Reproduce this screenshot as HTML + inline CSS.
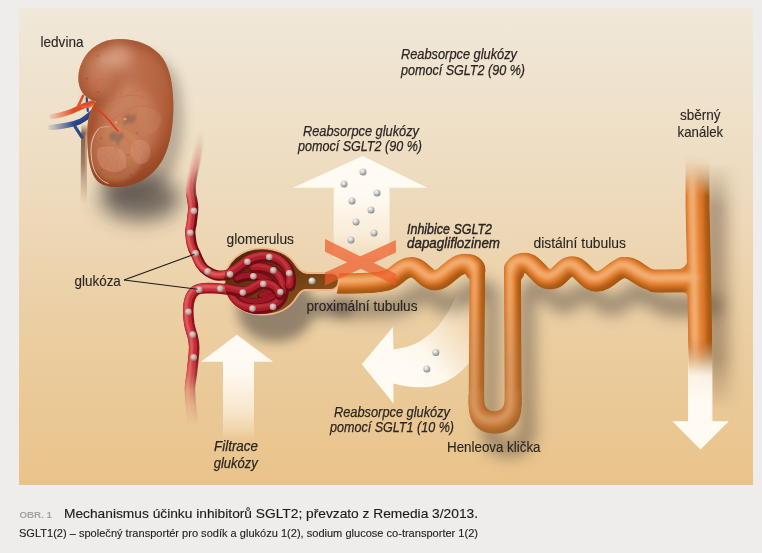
<!DOCTYPE html>
<html lang="cs">
<head>
<meta charset="utf-8">
<title>Mechanismus účinku inhibitorů SGLT2</title>
<style>
html,body{margin:0;padding:0;}
body{width:762px;height:553px;overflow:hidden;background:#eeedeb;font-family:"Liberation Sans",sans-serif;position:relative;}
svg{position:absolute;left:0;top:0;display:block;}
text{font-family:"Liberation Sans",sans-serif;fill:#2a2522;}
.lb{font-size:14.5px;stroke:#2a2522;stroke-width:0.12px;}
.it{font-size:14.5px;font-style:italic;stroke:#2a2522;stroke-width:0.25px;}
.bi{font-size:14.5px;font-style:italic;stroke:#2a2522;stroke-width:0.42px;}
</style>
</head>
<body>
<svg width="762" height="553" viewBox="0 0 762 553">
<defs>

<filter id="b1" filterUnits="userSpaceOnUse" x="0" y="0" width="762" height="553"><feGaussianBlur stdDeviation="1"/></filter>
<filter id="b2" filterUnits="userSpaceOnUse" x="0" y="0" width="762" height="553"><feGaussianBlur stdDeviation="2"/></filter>
<filter id="b4" filterUnits="userSpaceOnUse" x="0" y="0" width="762" height="553"><feGaussianBlur stdDeviation="4"/></filter>
<filter id="b6" filterUnits="userSpaceOnUse" x="0" y="0" width="762" height="553"><feGaussianBlur stdDeviation="6"/></filter>
<filter id="b10" filterUnits="userSpaceOnUse" x="0" y="0" width="762" height="553"><feGaussianBlur stdDeviation="10"/></filter>
<linearGradient id="gUp" gradientUnits="userSpaceOnUse" x1="0" y1="156" x2="0" y2="258">
<stop offset="0" stop-color="#fffbf3" stop-opacity="1"/>
<stop offset="0.4" stop-color="#fffbf3" stop-opacity="0.96"/>
<stop offset="0.75" stop-color="#fff6e8" stop-opacity="0.7"/>
<stop offset="1" stop-color="#fff6e8" stop-opacity="0.2"/>
</linearGradient>
<linearGradient id="gFil" gradientUnits="userSpaceOnUse" x1="0" y1="335" x2="0" y2="440">
<stop offset="0" stop-color="#fffbf3" stop-opacity="1"/>
<stop offset="0.35" stop-color="#fffbf3" stop-opacity="0.97"/>
<stop offset="0.7" stop-color="#fff6e8" stop-opacity="0.68"/>
<stop offset="0.9" stop-color="#fff6e8" stop-opacity="0.3"/>
<stop offset="1" stop-color="#fff6e8" stop-opacity="0"/>
</linearGradient>
<linearGradient id="gDown" gradientUnits="userSpaceOnUse" x1="0" y1="345" x2="0" y2="450">
<stop offset="0" stop-color="#fffbf3" stop-opacity="0"/>
<stop offset="0.3" stop-color="#fffbf3" stop-opacity="0.85"/>
<stop offset="0.55" stop-color="#fffbf3" stop-opacity="1"/>
<stop offset="1" stop-color="#fffbf3" stop-opacity="1"/>
</linearGradient>
<linearGradient id="gCur" gradientUnits="userSpaceOnUse" x1="408" y1="374" x2="478" y2="316">
<stop offset="0" stop-color="#fffbf3" stop-opacity="1"/>
<stop offset="0.3" stop-color="#fffbf3" stop-opacity="0.92"/>
<stop offset="0.7" stop-color="#fff6e8" stop-opacity="0.45"/>
<stop offset="1" stop-color="#fff6e8" stop-opacity="0"/>
</linearGradient>

<path id="pProx" d="M328,283 C350,284 372,284 387,280.5 C397,277.5 401,267.3 411.5,267.3 C421,267.3 425.5,280.3 435,280.3 C445.5,280.3 453,264 465,264 C471.5,264 475.3,266 475.3,271"/>
<path id="pDesc" d="M477.4,268 L476.4,404"/>
<path id="pU" d="M476.4,396 L476.4,404 C476.4,417 483,423.5 494.8,423.5 C506.5,423.5 513.2,417 513.2,404 L513.2,396"/>
<path id="pAsc" d="M513.2,404 L512.5,268"/>
<path id="pDist" d="M514.3,272 C514.3,266 518,263 525,263 C535,263 540,279.3 550,279.3 C560,279.3 563,266.5 572,266.5 C582,266.5 586,281.5 597,281.5 C608,281.5 615,267.3 626.5,267.3 C637,267.3 643,280.3 656,280.5 L698,280.5"/>
<path id="pDuct" d="M697.4,150 L697.6,210 L699.2,275 L700.8,380"/>
<linearGradient id="gDuctMask" gradientUnits="userSpaceOnUse" x1="0" y1="150" x2="0" y2="380">
<stop offset="0" stop-color="#000"/>
<stop offset="0.02" stop-color="#000"/>
<stop offset="0.10" stop-color="#666"/>
<stop offset="0.2" stop-color="#fff"/>
<stop offset="0.83" stop-color="#fff"/>
<stop offset="0.92" stop-color="#777"/>
<stop offset="0.99" stop-color="#000"/>
</linearGradient>
<mask id="mDuct" maskUnits="userSpaceOnUse" x="640" y="140" width="120" height="260"><rect x="640" y="140" width="120" height="260" fill="url(#gDuctMask)"/></mask>

<filter id="b15" filterUnits="userSpaceOnUse" x="0" y="0" width="762" height="553"><feGaussianBlur stdDeviation="1.5"/></filter>
<mask id="mTube" maskUnits="userSpaceOnUse" x="300" y="140" width="440" height="320">
<g fill="none" stroke="#fff" stroke-linecap="round" stroke-linejoin="round">
<use href="#pDuct" stroke-width="24" stroke-linecap="butt" mask="url(#mDuct)"/>
<use href="#pProx" stroke-width="20.4"/>
<use href="#pDesc" stroke-width="15.5"/>
<use href="#pU" stroke-width="15.5"/>
<use href="#pAsc" stroke-width="17"/>
<use href="#pDist" stroke-width="20.4"/>
<use href="#pDist2" stroke-width="23.2"/>
<use href="#pDist3" stroke-width="21.2"/>
<use href="#pFil" fill="#fff" stroke="none"/>
<use href="#pUfill" fill="#fff" stroke="none"/>
<path d="M300,260 L336,260 C340,268 340,284 335,300 L300,300 Z" fill="#000" stroke="none"/>
</g>
</mask>

<radialGradient id="gDotP" cx="0.4" cy="0.35" r="0.7">
<stop offset="0" stop-color="#e6d4d0"/>
<stop offset="0.45" stop-color="#d0b4ae"/>
<stop offset="1" stop-color="#94706c"/>
</radialGradient>
<radialGradient id="gDotG" cx="0.38" cy="0.32" r="0.75">
<stop offset="0" stop-color="#fbfbfb"/>
<stop offset="0.45" stop-color="#c9c9c9"/>
<stop offset="1" stop-color="#7a7a7a"/>
</radialGradient>
<path id="pAff" d="M200,134 C199,146 198,150 197.5,154 C196,162 194,168 192.6,174.3 C191,181 190.3,186 190.9,191.7 C191.5,198 193.5,203 193.2,209 C193,214 192,219 191.7,223.5 C191.2,227 190,229 190.3,232.8 C190.6,237 191,240 191.7,243.8 C192.5,247.5 193.5,250 195.5,253.4 C197,257 198.5,260.5 200.4,264 C202.5,267.5 204.5,269.5 207.7,271.4 C211,273.5 215,275.5 219.3,275.7 C223,275.9 226.5,275 230,274.3 C233,273.6 235,272.5 237,271.5"/>
<path id="pEff" d="M241,292.5 C232,289.5 222,288.5 208.9,288 C203,288 198,288.5 195,291 C191.5,294 189.5,299 188.7,304.3 C188,310 188.3,317 189.3,324 C190.3,330 191.8,333 192.6,336 C193.5,339.5 194.2,343 194.2,346.7 C194.2,352 193.8,356 193.6,357.5 C193,363 192.5,368 192,372.8 C191.3,379 190,384 190,389 C190,395 190.6,400 191,405.4 C191.5,411 192.3,415 192.6,424"/>
<linearGradient id="gAffMask" gradientUnits="userSpaceOnUse" x1="0" y1="130" x2="0" y2="205">
<stop offset="0" stop-color="#000"/><stop offset="0.2" stop-color="#1c1c1c"/><stop offset="0.5" stop-color="#5a5a5a"/><stop offset="0.8" stop-color="#c0c0c0"/><stop offset="1" stop-color="#fff"/>
</linearGradient>
<mask id="mAff" maskUnits="userSpaceOnUse" x="170" y="120" width="80" height="170"><rect x="170" y="120" width="80" height="170" fill="url(#gAffMask)"/><path d="M170,120 L196.8,120 L196.8,134 C195.5,146 193,156 191,165 C189,176 186.8,186 186,196 L170,196 Z M250,120 L203.2,120 L203.2,134 C202.5,146 201,156 199.2,165 C198,176 197,186 196.8,196 L250,196 Z" fill="#000" filter="url(#b1)"/></mask>
<linearGradient id="gEffMask" gradientUnits="userSpaceOnUse" x1="0" y1="350" x2="0" y2="430">
<stop offset="0.1" stop-color="#fff"/><stop offset="0.31" stop-color="#ccc"/><stop offset="0.5" stop-color="#666"/><stop offset="0.69" stop-color="#2a2a2a"/><stop offset="0.94" stop-color="#000"/>
</linearGradient>
<mask id="mEff" maskUnits="userSpaceOnUse" x="170" y="270" width="80" height="190"><rect x="170" y="270" width="80" height="190" fill="url(#gEffMask)"/></mask>
<linearGradient id="gCapIn" x1="0" y1="0" x2="1" y2="1">
<stop offset="0" stop-color="#4a2208"/><stop offset="0.5" stop-color="#6e3c10"/><stop offset="1" stop-color="#9a621e"/>
</linearGradient>
<path id="pCaps" d="M224.5,281.5 C224.5,262 241,248.3 262,248.3 C276,248.3 288,254 294.5,263 C298,268 301,272.5 307,273 L331,273 C337,273 339.3,276 338.8,281 C338.3,286.5 335,290.2 329,290 L305,290 C300,290.5 297.5,296 294,301 C287,310 276,314.7 262,314.7 C241,314.7 224.5,301 224.5,281.5 Z"/>
<clipPath id="cCaps"><use href="#pCaps"/></clipPath>

<path id="pKid" d="M119,39 C102,39 89,48 82.5,61 C77,72 77,84 82,92 C85.5,97.5 91,100 96,101.5 C93,106 90,111 88.5,118 C86.8,127 87,140 88,152 C89,164 91.5,174 97,180.5 C102,186 111,187.5 119,187 C139,186 154,175 163,159 C170.5,145 173.4,125 173.4,105 C173.2,86 170.5,70 163,58.5 C154,46 138,39 119,39 Z"/>
<clipPath id="cKid"><use href="#pKid"/></clipPath>
<radialGradient id="gKid" gradientUnits="userSpaceOnUse" cx="120" cy="85" r="98" fx="116" fy="62">
<stop offset="0" stop-color="#c47e5e"/>
<stop offset="0.3" stop-color="#b96a47"/>
<stop offset="0.65" stop-color="#b15d39"/>
<stop offset="1" stop-color="#9a4828"/>
</radialGradient>
<radialGradient id="gLobe" gradientUnits="userSpaceOnUse" cx="101" cy="72" r="29" fx="104" fy="60">
<stop offset="0" stop-color="#d49a7c" stop-opacity="0.7"/>
<stop offset="0.55" stop-color="#c47c5a" stop-opacity="0.5"/>
<stop offset="1" stop-color="#b9683f" stop-opacity="0"/>
</radialGradient>
<linearGradient id="gArt" gradientUnits="userSpaceOnUse" x1="46" y1="0" x2="74" y2="0">
<stop offset="0" stop-color="#e25a30" stop-opacity="0"/><stop offset="1" stop-color="#e04a24" stop-opacity="1"/>
</linearGradient>
<linearGradient id="gVein" gradientUnits="userSpaceOnUse" x1="46" y1="0" x2="74" y2="0">
<stop offset="0" stop-color="#3a5590" stop-opacity="0"/><stop offset="1" stop-color="#2c4a8c" stop-opacity="1"/>
</linearGradient>
<linearGradient id="gUre" gradientUnits="userSpaceOnUse" x1="0" y1="124" x2="0" y2="204">
<stop offset="0" stop-color="#6e4a34" stop-opacity="0"/><stop offset="0.12" stop-color="#6e4a34" stop-opacity="1"/><stop offset="0.5" stop-color="#8a6248" stop-opacity="0.9"/><stop offset="1" stop-color="#a88468" stop-opacity="0"/>
</linearGradient>
<linearGradient id="gUre2" gradientUnits="userSpaceOnUse" x1="0" y1="126" x2="0" y2="200">
<stop offset="0" stop-color="#c9a080" stop-opacity="0"/><stop offset="0.15" stop-color="#c9a080" stop-opacity="1"/><stop offset="0.5" stop-color="#c9a080" stop-opacity="0.8"/><stop offset="1" stop-color="#d8b898" stop-opacity="0"/>
</linearGradient>
<path id="pFil" d="M675,269.6 L688.5,269.6 L688.5,256 C688,265 683,269.6 675,269.6 Z M679,291.8 L688.5,291.8 L688.5,298 C688,294.5 685,291.8 679,291.8 Z"/>
<path id="pDist2" d="M655,281 C664,281.2 676,280.8 698,280.6"/>
<path id="pDist3" d="M622.5,267.6 C634.5,266.3 642,280.6 656,280.8 L698,280.6"/>
<path id="pUfill" fill-rule="evenodd" d="M468.7,394 L468.7,406 C468.7,424 479.5,433.8 495,433.8 C510.5,433.8 521.6,424 521.6,406 L521.6,394 Z M484.1,394 L484.1,399 C484.1,407 488.5,411.3 494.5,411.3 C500.5,411.3 504.8,407 504.8,399 L504.8,394 Z"/>
<linearGradient id="gTubeDim" gradientUnits="userSpaceOnUse" x1="0" y1="290" x2="0" y2="430">
<stop offset="0" stop-color="#a87c50" stop-opacity="0"/><stop offset="0.5" stop-color="#a87c50" stop-opacity="0.3"/><stop offset="1" stop-color="#a87c50" stop-opacity="0.42"/>
</linearGradient>
<linearGradient id="gDuctShMask" gradientUnits="userSpaceOnUse" x1="0" y1="150" x2="0" y2="410">
<stop offset="0.05" stop-color="#000"/><stop offset="0.22" stop-color="#fff"/><stop offset="0.8" stop-color="#fff"/><stop offset="1" stop-color="#000"/>
</linearGradient>
<mask id="mDuctSh" maskUnits="userSpaceOnUse" x="640" y="140" width="120" height="290"><rect x="640" y="140" width="120" height="290" fill="url(#gDuctShMask)"/></mask>
<filter id="b8" filterUnits="userSpaceOnUse" x="0" y="0" width="762" height="553"><feGaussianBlur stdDeviation="8"/></filter>
<filter id="b7" filterUnits="userSpaceOnUse" x="0" y="0" width="762" height="553"><feGaussianBlur stdDeviation="7"/></filter>
<!--DEFS-->
<linearGradient id="bg" x1="0" y1="0" x2="0" y2="1">
<stop offset="0" stop-color="#f0e8d9"/>
<stop offset="0.35" stop-color="#eedcc0"/>
<stop offset="0.7" stop-color="#ebcd9f"/>
<stop offset="1" stop-color="#e9c38b"/>
</linearGradient>
</defs>
<rect x="19" y="8" width="734" height="477" fill="url(#bg)"/>

<g id="tubeShadows" fill="none" stroke="#55483c" stroke-linecap="round" stroke-linejoin="round" opacity="0.55" filter="url(#b8)" transform="translate(14,25)">
<use href="#pProx" stroke-width="17.8"/>
<use href="#pDesc" stroke-width="14"/>
<use href="#pU" stroke-width="16"/>
<use href="#pAsc" stroke-width="15"/>
<use href="#pDist" stroke-width="17"/>
<use href="#pDist2" stroke-width="21"/>
<use href="#pDist3" stroke-width="19"/>
</g>
<g mask="url(#mDuctSh)"><path d="M698.4,150 L698.9,280 L701.5,420" fill="none" stroke="#5e4630" stroke-width="24" opacity="0.46" filter="url(#b8)" transform="translate(16,0)"/></g>

<use href="#pKid" fill="#42362c" opacity="0.3" filter="url(#b6)" transform="translate(10,12)"/>
<ellipse cx="140" cy="198" rx="40" ry="23" fill="#3a3636" opacity="0.68" filter="url(#b10)"/>
<use href="#pCaps" fill="#3c3634" opacity="0.5" filter="url(#b6)" transform="translate(13,27)"/>
<!--SHADOWS-->

<g id="arrows">
<path d="M362.7,156 L427.3,187.8 L389.5,187.8 L389.5,258 L333.7,258 L333.7,187.8 L293,187.8 Z" fill="url(#gUp)"/>
<path d="M236.8,334.7 L273.1,361.8 L254,361.8 L254,440 L223,440 L223,361.8 L201,361.8 Z" fill="url(#gFil)"/>
<path d="M688,345 L712.4,345 L712.4,421.3 L728.8,421.3 L700.5,449.5 L672.4,421.3 L688,421.3 Z" fill="url(#gDown)"/>
<path d="M361.8,364.2 L393,327 L393.5,349.4 C405,348 414,345 420.5,341 C429,335 435,330 439.3,324.7 C446,316 450,310 456,296 L484,296 C484,330 480,350 467.6,364.6 C462,371 457,375.5 451,378.8 C443,383.5 436,386 427.6,387 C415,388 403,386 393.5,383.5 L393.5,403.4 Z" fill="url(#gCur)"/>
</g>


<g id="kidney">
<path d="M84.6,122 C83.4,150 84,180 83.6,204" fill="none" stroke="url(#gUre)" stroke-width="6" opacity="0.85"/>
<path d="M86.6,126 C85.6,150 86.3,180 85.9,200" fill="none" stroke="url(#gUre2)" stroke-width="2"/>
<g fill="none" stroke-linecap="round" stroke-linejoin="round">
<path d="M50,127.5 C62,126.5 72,125 80,121.5 C86,118.5 90,114.5 94.5,110.5" stroke="url(#gVein)" stroke-width="5.2"/>
<path d="M76,124 C82,122 88,118 92,114.5" stroke="#27437f" stroke-width="2.4"/>
<path d="M87.8,111 C87.4,106 87,102 86.7,98" stroke="#2c4a8c" stroke-width="2.2"/>
<path d="M74.7,126 C77,130 79.5,133.5 81.8,137" stroke="#2c4a8c" stroke-width="3.2"/>
<path d="M52,116.5 C62,115 70,112.5 78,108.5 C83,106 88,104 92.5,103" stroke="url(#gArt)" stroke-width="5.2"/>
<path d="M77.5,107.5 C79.5,103.5 81.5,99.5 83,95.8" stroke="#e2532c" stroke-width="2.7"/>
<path d="M82,106.5 C86,107.5 90,106.5 93,104.5" stroke="#ea6238" stroke-width="2.2"/>
</g>
<use href="#pKid" fill="url(#gKid)"/>
<g clip-path="url(#cKid)">
<use href="#pKid" fill="none" stroke="#8a3f1f" stroke-width="9" opacity="0.5" filter="url(#b4)" transform="translate(3,2)"/>
<path d="M100,101 C109,100 114.5,94 115,86 C115.5,79 114,74 113,69" fill="none" stroke="#8e4224" stroke-width="6" opacity="0.5" filter="url(#b4)"/>
<ellipse cx="130" cy="124" rx="27" ry="40" fill="#dba27e" opacity="0.42" filter="url(#b6)"/>
<ellipse cx="103" cy="70" rx="27" ry="31" fill="url(#gLobe)"/>
<ellipse cx="118" cy="56" rx="13" ry="11" fill="#e8bca6" opacity="0.5" filter="url(#b6)"/>
<path d="M97.3,129.4 C104,124 114,123 124,127 C138,133 146,148 142,162 C138,176 122,185 108,181 C97,177 91,166 89.5,153 C88.8,143 92,134 97.3,129.4 Z" fill="#cf8d64" opacity="0.45" filter="url(#b2)"/>
<path d="M116,146.5 C109,145.5 101,146 97,148.5 C96,155 97.5,162 100.8,167 C106,171.5 112,173 118,172 C122,171 125,169 126.5,167 C127,162 126.5,157 125,153.4 C122,150 119.5,148 116,146.5 Z" fill="#d99c7c" opacity="0.42" stroke="#c8684a" stroke-width="0.6"/>
<path d="M131.7,141.4 C135,139 140,138.6 143.7,139.7 C147.5,142 150,145 150.6,148.3 C151,153 149.5,158.5 147,162 C144,164 140,164.5 137,163.7 C133.5,160.5 131,156 130,151.7 C129.6,148 130.3,144 131.7,141.4 Z" fill="#d6967a" opacity="0.4" stroke="#c8684a" stroke-width="0.6"/>
<path d="M137,108 C145,104 156,107 161,115 C163,123 158,132 150,134 C143,133 138,128 136,121 Z" fill="#c98660" opacity="0.3" stroke="#c66a4a" stroke-width="0.5"/>
<g fill="none" stroke="#c8684a" stroke-width="0.4" opacity="0.6">
<path d="M116,147 L104,168"/><path d="M116,147 L110,171"/><path d="M116,147 L117,172"/><path d="M116,147 L123,169"/><path d="M116,147 L99,160"/>
<path d="M132,142 L138,163"/><path d="M132,142 L144,163"/><path d="M132,142 L149,156"/>
</g>
<path d="M109,134.5 L114,131 L118,134 L123,132 L123.5,138 L120,141 L118,147 L115.5,141 L110,140.5 Z" fill="#8f6a56" opacity="0.75" filter="url(#b1)"/>
<path d="M123,117 L128,113.5 L132,116 L136,114 L135.5,120.5 L131,124 L127,123 L124,126.5 Z" fill="#96644c" opacity="0.65" filter="url(#b1)"/>
<circle cx="125" cy="119" r="1.6" fill="#e0a888" opacity="0.8"/><circle cx="116" cy="122.5" r="1.4" fill="#e0a888" opacity="0.7"/>
<path d="M98.5,129.4 C93.5,134 90.8,142 91,152 C91.5,164 94,172 99,177.5 C102,180.5 105,182.5 108.5,183.5" fill="none" stroke="#f4dccb" stroke-width="0.9" opacity="0.9"/>
<path d="M97.3,129.4 C101,127 105,126.3 109.4,126.8" fill="none" stroke="#ecc6ac" stroke-width="0.7" opacity="0.8"/>
<g fill="none" stroke="#dc5a3c" stroke-width="0.7" opacity="0.55" stroke-linecap="round">
<path d="M95,104 C104,104 114,100 122,97 C130,94 138,95 146,99"/>
<path d="M112,101 C114,94 113,86 109,81 C104,77 97,79 95,85 C94,90 98,94 103,93"/>
<path d="M120,97 C123,90 122,82 126,76"/>
<path d="M130,94 C136,90 142,88 150,90"/>
<path d="M118,131 C124,136 128,140 130,146"/>
<path d="M109,121 C118,118 128,108 138,106 C146,105 152,108 158,112"/>
<path d="M122,128 C130,130 138,134 144,139"/>
</g>
<path d="M90,106.5 C96,108 103,113 109.4,120.8 C112,124 115,128 118,131" fill="none" stroke="#e03a22" stroke-width="1.7" stroke-linecap="round"/>
<g fill="#4a4a70" opacity="0.6"><circle cx="87" cy="78.5" r="0.8"/><circle cx="98" cy="92" r="0.8"/><circle cx="101" cy="138" r="0.8"/><circle cx="101.5" cy="170" r="0.8"/><circle cx="130.5" cy="175" r="0.8"/><circle cx="137" cy="133" r="0.8"/><circle cx="98" cy="56" r="0.8"/><circle cx="128" cy="155" r="0.7"/></g>
<g fill="#c8402e" opacity="0.6"><circle cx="87" cy="82" r="0.8"/><circle cx="100.5" cy="94" r="0.7"/><circle cx="96" cy="141" r="0.8"/><circle cx="106" cy="174.5" r="0.7"/><circle cx="135" cy="170" r="0.7"/><circle cx="154" cy="160" r="0.7"/></g>
</g>
</g>
</g>

<!--VESSELS-->

<g id="tubules" fill="none" stroke-linecap="round" stroke-linejoin="round" mask="url(#mTube)">
<g stroke="#a85812">
<use href="#pDuct" stroke-width="24.5" stroke-linecap="butt" mask="url(#mDuct)"/>
<use href="#pProx" stroke-width="21"/>
<use href="#pDesc" stroke-width="16"/>
<use href="#pU" stroke-width="16"/>
<use href="#pAsc" stroke-width="17.5"/>
<use href="#pDist" stroke-width="21"/>
<use href="#pDist2" stroke-width="23.6"/>
<use href="#pDist3" stroke-width="21.6"/>
<use href="#pFil" fill="#c8701f" stroke="none"/>
<use href="#pUfill" fill="#a85812" stroke="none"/>
</g>
<g stroke="#e27d2f" transform="translate(-2.6,-2.9)" filter="url(#b2)">
<use href="#pDuct" stroke-width="19" stroke-linecap="butt" mask="url(#mDuct)" transform="translate(-0.8,0)"/>
<use href="#pProx" stroke-width="16.6"/>
<use href="#pDesc" stroke-width="12"/>
<use href="#pU" stroke-width="16"/>
<use href="#pAsc" stroke-width="13.5"/>
<use href="#pDist" stroke-width="16.6"/>
<use href="#pDist2" stroke-width="19.4"/>
<use href="#pDist3" stroke-width="17.4"/>
</g>
<g stroke="#f6b67c" transform="translate(-2.8,-3.2)" filter="url(#b2)" opacity="0.9">
<use href="#pDuct" stroke-width="7.5" stroke-linecap="butt" mask="url(#mDuct)" transform="translate(-2.5,0)"/>
<use href="#pProx" stroke-width="6.8"/>
<use href="#pDesc" stroke-width="4.8"/>
<use href="#pU" stroke-width="5.4"/>
<use href="#pAsc" stroke-width="5.4"/>
<use href="#pDist" stroke-width="6.8"/>
<use href="#pDist2" stroke-width="8.2"/>
<use href="#pDist3" stroke-width="7.5"/>
</g>
<rect x="440" y="280" width="110" height="170" fill="url(#gTubeDim)" stroke="none"/>
</g>
<g id="glom">
<use href="#pCaps" fill="url(#gCapIn)" stroke="#f0b48c" stroke-width="1.8" stroke-linejoin="round"/>
<g id="vessels" fill="none" stroke-linecap="round" stroke-linejoin="round">
<g mask="url(#mAff)">
<use href="#pAff" stroke="#6e0c17" stroke-width="10.2"/>
<use href="#pAff" stroke="#c42b34" stroke-width="7.5" transform="translate(-1.2,-0.6)"/>
<use href="#pAff" stroke="#ea6a6a" stroke-width="2.6" transform="translate(-2.5,-1.2)" filter="url(#b1)"/>
</g>
<g mask="url(#mEff)">
<use href="#pEff" stroke="#8c1420" stroke-width="10.5"/>
<use href="#pEff" stroke="#c42b34" stroke-width="8" transform="translate(-1.2,-0.8)"/>
<use href="#pEff" stroke="#ea6a6a" stroke-width="2.6" transform="translate(-2.5,-1.6)" filter="url(#b1)"/>
</g>
</g>
<g clip-path="url(#cCaps)" fill="none" stroke-linecap="round" stroke-linejoin="round">
<!-- back loops -->
<g stroke="#640a14" stroke-width="9">
<path d="M238,279 C248,274 262,276 270,282 C276,287 272,295 262,296"/>
<path d="M240,300 C252,304 266,303 274,297"/>
</g>
<g stroke="#9c1826" stroke-width="5.5" transform="translate(-0.8,-1.2)">
<path d="M238,279 C248,274 262,276 270,282 C276,287 272,295 262,296"/>
<path d="M240,300 C252,304 266,303 274,297"/>
</g>
<!-- big bottom arc -->
<path d="M232,296 C236,306 246,309 256,309 C268,309 278,306.5 282,298 C285,291 284,282 279,276 C274,270 264,267 254,268" stroke="#6e0c17" stroke-width="10.6"/>
<path d="M232,296 C236,306 246,309 256,309 C268,309 278,306.5 282,298 C285,291 284,282 279,276 C274,270 264,267 254,268" stroke="#a81c26" stroke-width="7" transform="translate(-1,-1.3)"/>
<path d="M232,296 C236,306 246,309 256,309 C268,309 278,306.5 282,298 C285,291 284,282 279,276 C274,270 264,267 254,268" stroke="#d65055" stroke-width="1.6" opacity="0.8" transform="translate(-1.6,-2.6)" filter="url(#b1)"/>
<!-- efferent S -->
<path d="M224,288.6 C232,289 240,293 247,291.5 C254,290 257,284 264,284 C272,284 279,289 280,295" stroke="#6e0c17" stroke-width="10.6"/>
<path d="M224,288.6 C232,289 240,293 247,291.5 C254,290 257,284 264,284 C272,284 279,289 280,295" stroke="#ae1e28" stroke-width="7" transform="translate(-0.9,-1.3)"/>
<path d="M224,288.6 C232,289 240,293 247,291.5 C254,290 257,284 264,284 C272,284 279,289 280,295" stroke="#dd4f5b" stroke-width="1.6" opacity="0.8" transform="translate(-1.2,-2.8)" filter="url(#b1)"/>
<!-- afferent outer arc -->
<path d="M224,275.3 C233,274.5 238,268.5 246,262.5 C254,257.5 264,256 272,257.5 C281,259.5 288,266 290,274 C291,279 291,283 290,286" stroke="#6e0c17" stroke-width="10.6"/>
<path d="M224,275.3 C233,274.5 238,268.5 246,262.5 C254,257.5 264,256 272,257.5 C281,259.5 288,266 290,274 C291,279 291,283 290,286" stroke="#ae1e28" stroke-width="7.4" transform="translate(-0.9,-1.3)"/>
<path d="M224,275.3 C233,274.5 238,268.5 246,262.5 C254,257.5 264,256 272,257.5 C281,259.5 288,266 290,274 C291,279 291,283 290,286" stroke="#dc5a5e" stroke-width="1.7" opacity="0.8" transform="translate(-1.4,-2.9)" filter="url(#b1)"/>
</g>
</g>


<g id="xmark" fill="#ee5a28" opacity="0.7">
<path d="M325,238.9 L325,251.8 L395.9,285.5 L395.9,273.7 Z"/>
<path d="M395.9,240 L395.9,252.4 L325,285.5 L325,272.5 Z"/>
</g>

<g id="dots">
<circle cx="247.4" cy="261.8" r="3.3" fill="url(#gDotP)"/>
<circle cx="269.3" cy="257.0" r="3.3" fill="url(#gDotP)"/>
<circle cx="230.0" cy="274.3" r="3.4" fill="url(#gDotP)"/>
<circle cx="273.4" cy="270.4" r="3.3" fill="url(#gDotP)"/>
<circle cx="289.2" cy="273.3" r="3.3" fill="url(#gDotP)"/>
<circle cx="253.4" cy="276.3" r="3.3" fill="url(#gDotP)"/>
<circle cx="263.3" cy="284.0" r="3.3" fill="url(#gDotP)"/>
<circle cx="220.3" cy="288.7" r="3.4" fill="url(#gDotP)"/>
<circle cx="242.8" cy="292.6" r="3.3" fill="url(#gDotP)"/>
<circle cx="280.4" cy="292.0" r="3.3" fill="url(#gDotP)"/>
<circle cx="252.5" cy="308.6" r="3.3" fill="url(#gDotP)"/>
<circle cx="273.0" cy="306.9" r="3.3" fill="url(#gDotP)"/>
<circle cx="193.8" cy="211.0" r="3.4" fill="url(#gDotP)"/>
<circle cx="190.3" cy="232.8" r="3.4" fill="url(#gDotP)"/>
<circle cx="195.5" cy="253.4" r="3.4" fill="url(#gDotP)"/>
<circle cx="207.7" cy="271.4" r="3.4" fill="url(#gDotP)"/>
<circle cx="199.1" cy="289.7" r="3.4" fill="url(#gDotP)"/>
<circle cx="188.4" cy="311.8" r="3.4" fill="url(#gDotP)"/>
<circle cx="192.6" cy="334.7" r="3.4" fill="url(#gDotP)"/>
<circle cx="193.6" cy="357.5" r="3.4" fill="url(#gDotP)"/>
<circle cx="312.0" cy="281.0" r="3.5" fill="url(#gDotG)"/>
<circle cx="363.0" cy="172.0" r="3.5" fill="url(#gDotG)"/>
<circle cx="344.0" cy="184.0" r="3.5" fill="url(#gDotG)"/>
<circle cx="377.0" cy="193.0" r="3.5" fill="url(#gDotG)"/>
<circle cx="352.0" cy="201.0" r="3.5" fill="url(#gDotG)"/>
<circle cx="371.0" cy="210.0" r="3.5" fill="url(#gDotG)"/>
<circle cx="356.0" cy="222.0" r="3.5" fill="url(#gDotG)"/>
<circle cx="374.0" cy="233.0" r="3.5" fill="url(#gDotG)"/>
<circle cx="351.0" cy="240.0" r="3.5" fill="url(#gDotG)"/>
<circle cx="435.8" cy="352.6" r="3.5" fill="url(#gDotG)"/>
<circle cx="426.8" cy="369.0" r="3.5" fill="url(#gDotG)"/>
</g>

<g stroke="#1a1a1a" stroke-width="1.05" fill="none">
<path d="M124,280.1 L194.4,254.3"/>
<path d="M124,280.1 L197.5,289.2"/>
</g>

<g id="labels">
<text class="lb" x="40.5" y="47.2" textLength="43" lengthAdjust="spacingAndGlyphs">ledvina</text>
<text class="lb" x="226.5" y="243.9" textLength="67.5" lengthAdjust="spacingAndGlyphs">glomerulus</text>
<text class="lb" x="74.6" y="285.5" textLength="46.2" lengthAdjust="spacingAndGlyphs">glukóza</text>
<text class="lb" x="306.5" y="311.3" textLength="111" lengthAdjust="spacingAndGlyphs">proximální tubulus</text>
<text class="lb" x="533.5" y="247.5" textLength="92.5" lengthAdjust="spacingAndGlyphs">distální tubulus</text>
<text class="lb" x="447" y="451.8" textLength="93.5" lengthAdjust="spacingAndGlyphs">Henleova klička</text>
<text class="lb" x="680" y="120" textLength="40.6" lengthAdjust="spacingAndGlyphs">sběrný</text>
<text class="lb" x="677.6" y="136.8" textLength="45.6" lengthAdjust="spacingAndGlyphs">kanálek</text>
<text class="it" x="401" y="59.4" textLength="116" lengthAdjust="spacingAndGlyphs">Reabsorpce glukózy</text>
<text class="it" x="401" y="74.9" textLength="124" lengthAdjust="spacingAndGlyphs">pomocí SGLT2 (90 %)</text>
<text class="it" x="303" y="135.5" textLength="116" lengthAdjust="spacingAndGlyphs">Reabsorpce glukózy</text>
<text class="it" x="298" y="150.7" textLength="124" lengthAdjust="spacingAndGlyphs">pomocí SGLT2 (90 %)</text>
<text class="bi" x="407" y="233.5" textLength="85" lengthAdjust="spacingAndGlyphs">Inhibice SGLT2</text>
<text class="bi" x="407" y="247.5" textLength="93" lengthAdjust="spacingAndGlyphs">dapagliflozinem</text>
<text class="it" x="334" y="417" textLength="116" lengthAdjust="spacingAndGlyphs">Reabsorpce glukózy</text>
<text class="it" x="330" y="432" textLength="124" lengthAdjust="spacingAndGlyphs">pomocí SGLT1 (10 %)</text>
<text class="it" x="214" y="451" textLength="44" lengthAdjust="spacingAndGlyphs">Filtrace</text>
<text class="it" x="213.7" y="467.6" textLength="44" lengthAdjust="spacingAndGlyphs">glukózy</text>
</g>
<g id="caption">
<text x="19.5" y="517.7" font-size="9.7" font-weight="bold" style="fill:#a5a3a1" textLength="32.5" lengthAdjust="spacingAndGlyphs">OBR. 1</text>
<text x="64" y="517.8" font-size="13.3" style="fill:#1f1c1a;stroke:#1f1c1a;stroke-width:0.15px" textLength="414" lengthAdjust="spacingAndGlyphs">Mechanismus účinku inhibitorů SGLT2; převzato z Remedia 3/2013.</text>
<text x="19" y="536.8" font-size="10.5" style="fill:#1f1c1a;stroke:#1f1c1a;stroke-width:0.12px" textLength="459" lengthAdjust="spacingAndGlyphs">SGLT1(2) – společný transportér pro sodík a glukózu 1(2), sodium glucose co-transporter 1(2)</text>
</g>
</svg>
</body>
</html>
